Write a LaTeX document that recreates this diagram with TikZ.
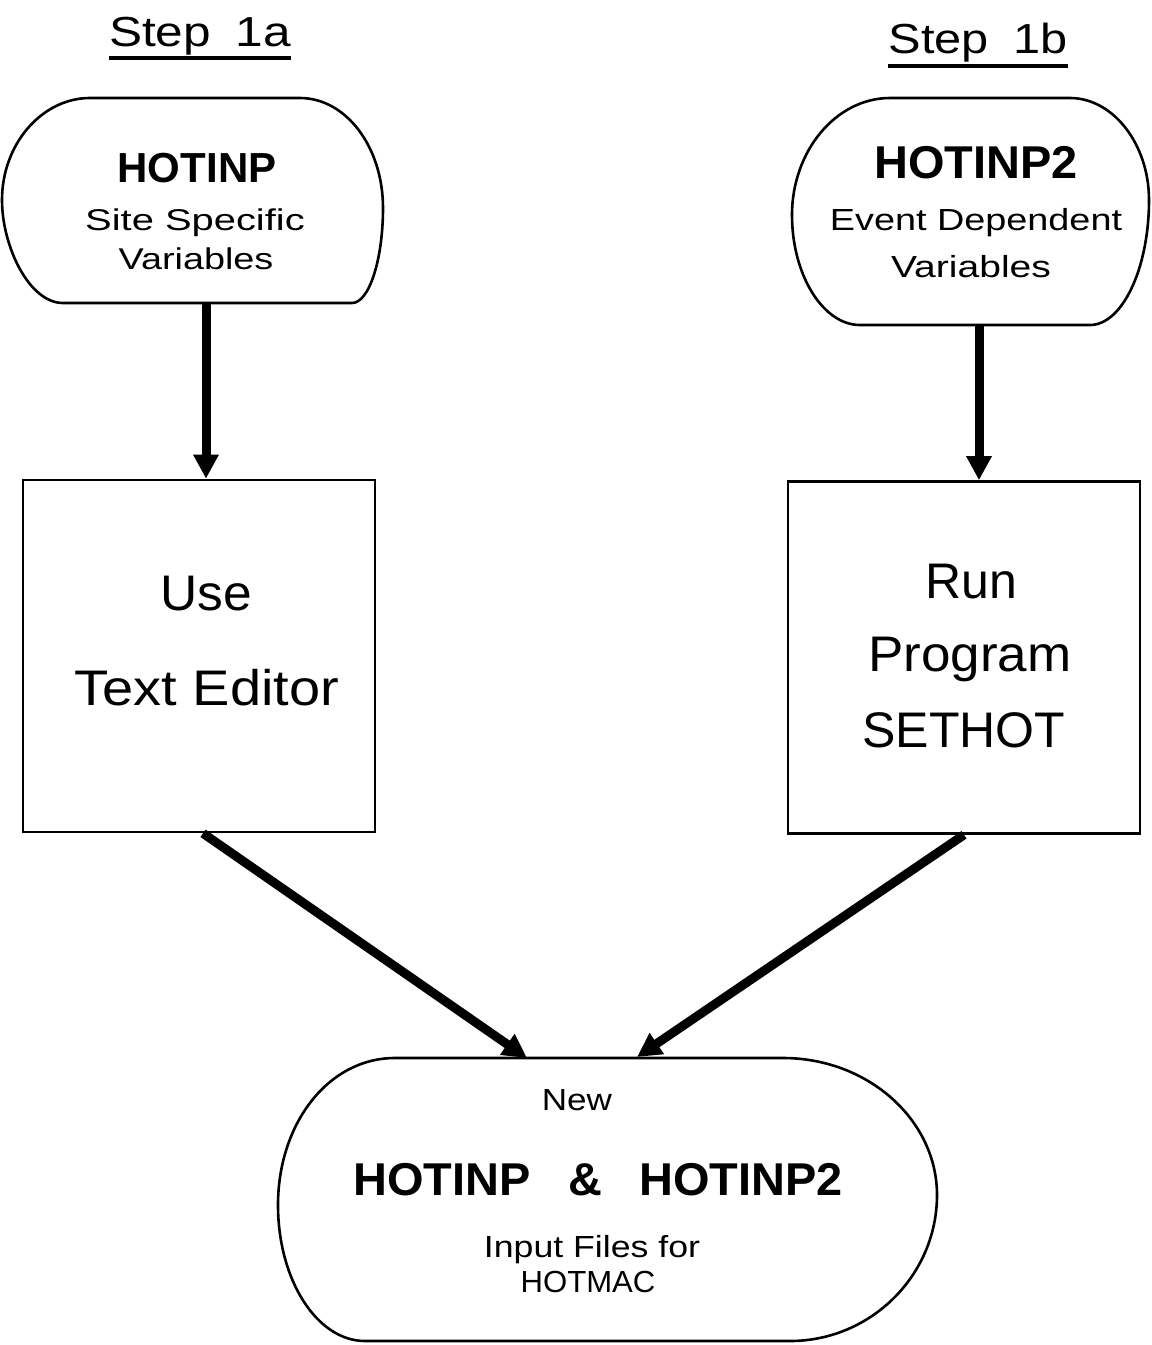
\documentclass[tikz,border=0pt]{standalone}
\usepackage{fontspec}
\setmainfont{Liberation Sans}
\usepackage{graphicx}
\usetikzlibrary{arrows.meta,calc}

% one text line: font size, horizontal stretch, text
\newcommand{\fitline}[3]{\fontsize{#1}{#1}\selectfont\scalebox{#2}[1]{#3}}

\begin{document}
\begin{tikzpicture}[x=0.5pt,y=-0.5pt,
  outline/.style={line width=1.3pt, line join=round},
  procbox/.style={draw, line width=1.3pt, minimum width=176pt, minimum height=176pt, inner sep=0pt},
  txt/.style={inner sep=0pt, anchor=base},
  flow/.style={line width=4.5pt, -{Triangle[width=12pt,length=12pt]}},
  rule/.style={line width=1.6pt}]

\fill[white] (0,0) rectangle (1152,1345);
\useasboundingbox (0,0) rectangle (1152,1345);

% step headings
\node[txt] (step1a) at (200,46) {\fitline{21pt}{1.18}{Step\hspace{0.5em}1a}};
\draw[rule] ($(step1a.base west)+(0,12)$) -- ($(step1a.base east)+(0,12)$);
\node[txt] (step1b) at (978,53) {\fitline{21pt}{1.16}{Step\hspace{0.5em}1b}};
\draw[rule] ($(step1b.base west)+(0,13)$) -- ($(step1b.base east)+(0,13)$);

% HOTINP terminal
\draw[outline] (90,98) -- (300,98)
  .. controls (346,98) and (383,147) .. (383,208)
  .. controls (383,260) and (369,303) .. (352,303)
  -- (63,303)
  .. controls (29,303) and (2,246) .. (2,200)
  .. controls (2,144) and (42,98) .. (90,98) -- cycle;
\node[txt] (hotinp) at (197,182) {\fitline{21pt}{1.0}{\bfseries HOTINP}};
\node[txt] (sitevars1) at (195,230) {\fitline{15pt}{1.33}{Site Specific}};
\node[txt] (sitevars2) at (196,269) {\fitline{15pt}{1.26}{Variables}};
\coordinate (hotinpOut) at (206,303);

% HOTINP2 terminal
\draw[outline] (890,98) -- (1070,98)
  .. controls (1113,98) and (1149,144) .. (1149,200)
  .. controls (1149,269) and (1122,325) .. (1090,325)
  -- (860,325)
  .. controls (823,325) and (792,275) .. (792,215)
  .. controls (792,151) and (836,98) .. (890,98) -- cycle;
\node[txt] (hotinptwo) at (976,178) {\fitline{23pt}{1.02}{\bfseries HOTINP2}};
\node[txt] (eventvars1) at (976,230) {\fitline{15.25pt}{1.24}{Event Dependent}};
\node[txt] (eventvars2) at (971,277) {\fitline{15.25pt}{1.28}{Variables}};
\coordinate (hotinptwoOut) at (979,325);

% process boxes
\node[procbox] (editor) at (199,656) {};
\node[txt] (use) at (206,610) {\fitline{25pt}{1.03}{Use}};
\node[txt] (texted) at (207,705) {\fitline{25pt}{1.12}{Text Editor}};

\node[procbox] (runbox) at (964,657.5) {};
\node[txt] (run) at (971,598) {\fitline{25pt}{1.0}{Run}};
\node[txt] (program) at (970,671) {\fitline{25pt}{1.06}{Program}};
\node[txt] (sethot) at (964,747) {\fitline{25pt}{1.0}{SETHOT}};

% merged input files terminal
\draw[outline] (395,1058) -- (783,1058)
  .. controls (868,1058) and (937,1120) .. (937,1195)
  .. controls (937,1275) and (871,1341) .. (790,1341)
  -- (365,1341)
  .. controls (317,1341) and (278,1280) .. (278,1205)
  .. controls (278,1124) and (328,1058) .. (395,1058) -- cycle;
\node[txt] (new) at (577,1110) {\fitline{15.25pt}{1.15}{New}};
\node[txt] (both) at (598,1195) {\fitline{23pt}{1.02}{\bfseries HOTINP\hspace{0.8em}\&\hspace{0.8em}HOTINP2}};
\node[txt] (inputs) at (592,1257) {\fitline{15.25pt}{1.17}{Input Files for}};
\node[txt] (hotmac) at (588,1292) {\fitline{15.25pt}{1.02}{HOTMAC}};
\coordinate (mergeInL) at (527,1058);
\coordinate (mergeInR) at (637,1057);

% flow arrows
\draw[flow] (hotinpOut) -- (hotinpOut |- editor.north);
\draw[flow] (hotinptwoOut) -- (hotinptwoOut |- runbox.north);
\draw[flow] ($(editor.south)+(4,0)$) -- (mergeInL);
\draw[flow] (runbox.south) -- (mergeInR);

\end{tikzpicture}
\end{document}
